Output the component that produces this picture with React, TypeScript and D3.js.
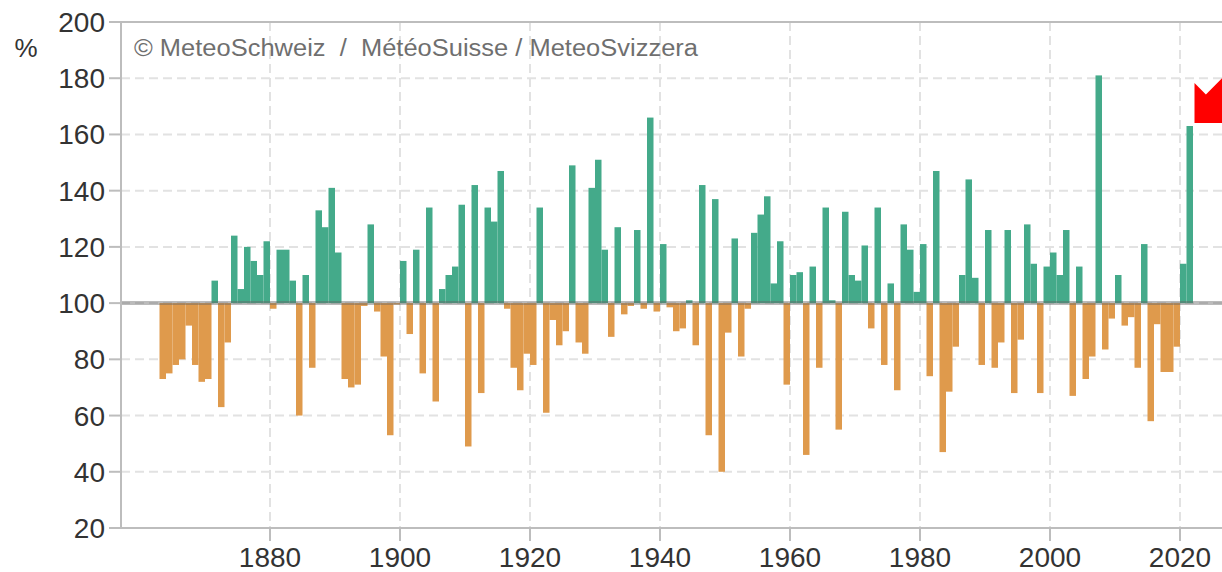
import React, { useRef, useEffect } from 'react';
import * as d3 from 'd3';

// summer precipitation, % of the norm, one value per year (1863 ... 2021)
const years = d3.range(1863, 2022);
const values = [
  73, 75, 78, 80, 92, 78, 72, 73, 108, 63,
  86, 124, 105, 120, 115, 110, 122, 98, 119, 119,
  108, 60, 110, 77, 133, 127, 141, 118, 73, 70,
  71, 99, 128, 97, 81, 53, 99.5, 115, 89, 119,
  75, 134, 65, 105, 110, 113, 135, 49, 142, 68,
  134, 129, 147, 98, 77, 69, 82, 78, 134, 61,
  94, 85, 90, 149, 86, 82, 141, 151, 119, 88,
  127, 96, 99, 126, 98, 166, 97, 121, 98.5, 90,
  91, 101, 85, 142, 53, 137, 40, 89.5, 123, 81,
  98, 125, 131.5, 138, 107, 122, 71, 110, 111, 46,
  113, 77, 134, 101, 55, 132.5, 110, 108, 120.5, 91,
  134, 78, 107, 69, 128, 119, 104, 121, 74, 147,
  47, 68.5, 84.5, 110, 144, 109, 78, 126, 77, 86,
  126, 68, 87, 128, 114, 68, 113, 118, 110, 126,
  67, 113, 73, 81, 181, 83.5, 94.5, 110, 92, 95,
  77, 121, 58, 92.5, 75.5, 75.5, 84.5, 114, 163,
];

const yTicks = [20, 40, 60, 80, 100, 120, 140, 160, 180, 200];
const xTicks = [1880, 1900, 1920, 1940, 1960, 1980, 2000, 2020];
const unitLabel = '%';
const credit = '\u00a9 MeteoSchweiz \u00a0/ \u00a0M\u00e9t\u00e9oSuisse / MeteoSvizzera';
const norm = 100;

const W = 1222;
const H = 572;

function App() {
  const ref = useRef(null);

  useEffect(() => {
    document.body.style.margin = '0';
    const svg = d3.select(ref.current);
    svg.selectAll('*').remove();

    const font = '"Liberation Sans", Arial, sans-serif';
    const left = 121;
    const axisColor = '#bdbdbd';

    const x = d3.scaleLinear().domain([1880, 2020]).range([270, 1180]);
    const y = d3.scaleLinear().domain([20, 200]).range([528, 22]);
    const top = y(200);
    const bottom = y(20);

    // dashed grid
    const grid = svg.append('g')
      .attr('stroke', '#e2e2e2')
      .attr('stroke-width', 2)
      .attr('stroke-dasharray', '9,5');
    grid.selectAll('line.h')
      .data(yTicks.filter(v => v > 20 && v < 200))
      .join('line')
      .attr('class', 'h')
      .attr('x1', left).attr('x2', W)
      .attr('y1', d => y(d)).attr('y2', d => y(d));
    grid.selectAll('line.v')
      .data(xTicks)
      .join('line')
      .attr('class', 'v')
      .attr('x1', d => x(d)).attr('x2', d => x(d))
      .attr('y1', top).attr('y2', bottom);

    // bars
    const data = years.map((yr, i) => ({ year: yr, value: values[i] }));
    svg.append('g')
      .selectAll('rect')
      .data(data)
      .join('rect')
      .attr('x', d => x(d.year))
      .attr('width', d => x(d.year + 1) - x(d.year))
      .attr('y', d => Math.min(y(d.value), y(norm)))
      .attr('height', d => Math.abs(y(d.value) - y(norm)))
      .attr('fill', d => (d.value >= norm ? '#44aa8a' : '#df9a4c'));

    // 100 % line over the bars
    svg.append('line')
      .attr('x1', left).attr('x2', W)
      .attr('y1', y(norm)).attr('y2', y(norm))
      .attr('stroke', 'rgba(100,100,100,0.44)')
      .attr('stroke-width', 4);

    // axes
    const axes = svg.append('g').attr('stroke', axisColor).attr('stroke-width', 2);
    axes.append('line').attr('x1', left).attr('x2', left).attr('y1', top).attr('y2', bottom);
    axes.append('line').attr('x1', left).attr('x2', W).attr('y1', top).attr('y2', top);
    axes.append('line').attr('x1', left).attr('x2', W).attr('y1', bottom).attr('y2', bottom);
    axes.selectAll('line.yt')
      .data(yTicks)
      .join('line')
      .attr('class', 'yt')
      .attr('x1', left - 12).attr('x2', left)
      .attr('y1', d => y(d)).attr('y2', d => y(d));
    axes.selectAll('line.xt')
      .data(xTicks)
      .join('line')
      .attr('class', 'xt')
      .attr('x1', d => x(d)).attr('x2', d => x(d))
      .attr('y1', bottom).attr('y2', bottom + 13);

    // tick labels
    svg.append('g')
      .selectAll('text')
      .data(yTicks)
      .join('text')
      .attr('x', 105)
      .attr('y', d => y(d) + 10)
      .attr('text-anchor', 'end')
      .attr('font-family', font)
      .attr('font-size', 28)
      .attr('fill', '#333')
      .text(d => d);
    svg.append('g')
      .selectAll('text')
      .data(xTicks)
      .join('text')
      .attr('x', d => x(d))
      .attr('y', bottom + 39)
      .attr('text-anchor', 'middle')
      .attr('font-family', font)
      .attr('font-size', 28)
      .attr('fill', '#333')
      .text(d => d);

    svg.append('text')
      .attr('x', 26).attr('y', 57)
      .attr('text-anchor', 'middle')
      .attr('font-family', font)
      .attr('font-size', 26)
      .attr('fill', '#333')
      .text(unitLabel);

    svg.append('text')
      .attr('x', 134).attr('y', 56)
      .attr('font-family', font)
      .attr('font-size', 23)
      .attr('fill', '#6f6f6f')
      .attr('textLength', 564)
      .attr('lengthAdjust', 'spacingAndGlyphs')
      .text(credit);

    // red arrow pointing at the latest year
    const last = data[data.length - 1];
    const tx = x(last.year + 1) + 1.5;
    const ty = y(last.value) - 3;
    const arrow = [[0, 0], [0, -40], [11.4, -28.6], [111.4, -128.6], [128.6, -111.4], [28.6, -11.4], [40, 0]];
    svg.append('polygon')
      .attr('points', arrow.map(p => `${tx + p[0]},${ty + p[1]}`).join(' '))
      .attr('fill', '#ff0000');
  }, []);

  return <svg ref={ref} width={W} height={H} style={{ display: 'block' }}></svg>;
}

export default App;
